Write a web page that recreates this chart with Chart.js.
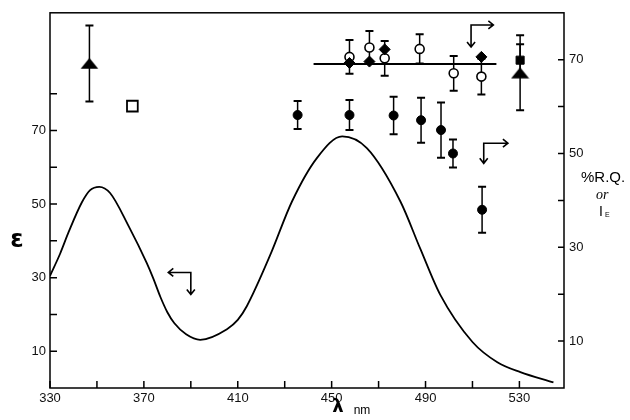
<!DOCTYPE html>
<html>
<head>
<meta charset="utf-8">
<script src="https://cdn.jsdelivr.net/npm/chart.js@4.4.1/dist/chart.umd.min.js"></script>
<style>
  html, body { margin: 0; padding: 0; background: #fff; }
  #wrap { width: 630px; height: 420px; position: relative; }
</style>
</head>
<body>
<div id="wrap"><canvas id="myChart"></canvas></div>
<script>
// absorption spectrum (left axis, epsilon)
const lambda = [330, 334.3, 338, 343.6, 347.1, 351, 355.6, 363.5, 371.2, 374, 377, 380, 383, 388, 394, 405.4, 410, 413.9, 423.8, 433.1, 443.7, 454.5, 465, 479.3, 487.8, 496.3, 510, 520.6, 530.4, 544.5];
const epsilon = [30.5, 36.5, 42.5, 50.5, 53.8, 54.7, 53.0, 44.0, 34.0, 29.8, 24.8, 20.6, 17.6, 14.6, 13.1, 16.0, 18.5, 22.3, 36.1, 50.7, 62.5, 68.4, 65.2, 50.7, 37.8, 25.3, 12.5, 7.0, 4.3, 1.5];

// points on right axis (%R.Q. or I_E)
const openCircleX = [457.6, 466.1, 472.6, 487.5, 502.0, 513.8];
const openCircleY = [70.6, 72.6, 70.3, 72.3, 67.1, 66.4];
const openCircleErr = [3.6, 3.5, 3.7, 3.1, 3.7, 3.8];

const diamondX = [457.6, 466.1, 472.6, 513.8];
const diamondY = [69.3, 69.6, 72.2, 70.6];

const filledCircleX = [435.5, 457.6, 476.4, 488.1, 496.6, 501.7, 514.1];
const filledCircleY = [58.2, 58.2, 58.1, 57.1, 55.0, 50.0, 38.0];
const filledCircleErr = [3.0, 3.2, 4.0, 4.8, 5.9, 3.0, 4.9];

const triangleX = [346.8, 530.3];
const triangleY = [69.2, 67.2];
const triangleErr = [8.1, 8.0];

const squareX = [530.3];
const squareY = [69.9];
const squareErr = [3.4];

const openSquareX = [365.1];
const openSquareY = [60.1];

const meanX = [442.3, 520.2];
const meanY = [69.1, 69.1];

// ticks
const xTicks = [330, 350, 370, 390, 410, 430, 450, 470, 490, 510, 530];
const xLabels = [330, 370, 410, 450, 490, 530];
const epsTicks = [10, 20, 30, 40, 50, 60, 70, 80];
const epsLabels = [10, 30, 50, 70];
const rqTicks = [10, 20, 30, 40, 50, 60, 70];
const rqLabels = [10, 30, 50, 70];

// bent arrows telling which axis a set belongs to
const arrowNotes = [
  { axis: 'y', corner: [390, 31.4], hEnd: 380.4, vEnd: 25.4 },
  { axis: 'y2', corner: [509.4, 77.4], hEnd: 518.9, vEnd: 72.7 },
  { axis: 'y2', corner: [514.8, 52.2], hEnd: 525.1, vEnd: 47.9 }
];

const pts = (xs, ys) => xs.map((x, i) => ({ x: x, y: ys[i] }));

// flat filled triangle marker
const tri = document.createElement('canvas');
tri.width = 19; tri.height = 12;
(function () {
  const c = tri.getContext('2d');
  c.fillStyle = '#000';
  c.beginPath();
  c.moveTo(9.5, 0.5); c.lineTo(18.5, 11.5); c.lineTo(0.5, 11.5);
  c.closePath(); c.fill();
})();

const font = { family: 'Liberation Sans, Arial, sans-serif', size: 13 };

const errorBars = {
  id: 'errorBars',
  beforeDatasetsDraw(chart) {
    const ctx = chart.ctx;
    chart.data.datasets.forEach((ds, i) => {
      if (!ds.errors) return;
      const meta = chart.getDatasetMeta(i);
      const ys = chart.scales[ds.yAxisID];
      ctx.save();
      ctx.strokeStyle = '#000';
      meta.data.forEach((pt, j) => {
        const e = ds.errors[j];
        if (!e) return;
        const v = ds.data[j].y;
        const top = ys.getPixelForValue(v + e);
        const bot = ys.getPixelForValue(v - e);
        ctx.lineWidth = 1.5;
        ctx.beginPath();
        ctx.moveTo(pt.x, top); ctx.lineTo(pt.x, bot);
        ctx.stroke();
        ctx.lineWidth = 2;
        ctx.beginPath();
        ctx.moveTo(pt.x - 4, top); ctx.lineTo(pt.x + 4, top);
        ctx.moveTo(pt.x - 4, bot); ctx.lineTo(pt.x + 4, bot);
        ctx.stroke();
      });
      ctx.restore();
    });
  }
};

const frame = {
  id: 'frame',
  afterDraw(chart) {
    const ctx = chart.ctx;
    const a = chart.chartArea;
    const sx = chart.scales.x, sy = chart.scales.y, sy2 = chart.scales.y2;
    ctx.save();
    ctx.strokeStyle = '#000';
    ctx.lineWidth = 1.5;
    ctx.strokeRect(a.left, a.top, a.right - a.left, a.bottom - a.top);
    // inward tick marks
    ctx.beginPath();
    xTicks.forEach(v => {
      const p = sx.getPixelForValue(v);
      ctx.moveTo(p, a.bottom); ctx.lineTo(p, a.bottom - 7);
    });
    epsTicks.forEach(v => {
      const p = sy.getPixelForValue(v);
      ctx.moveTo(a.left, p); ctx.lineTo(a.left + 7, p);
    });
    rqTicks.forEach(v => {
      const p = sy2.getPixelForValue(v);
      ctx.moveTo(a.right, p); ctx.lineTo(a.right - 6, p);
    });
    ctx.stroke();

    // arrows
    ctx.lineWidth = 1.6;
    arrowNotes.forEach(n => {
      const ys = chart.scales[n.axis];
      const cx = sx.getPixelForValue(n.corner[0]);
      const cy = ys.getPixelForValue(n.corner[1]);
      const hx = sx.getPixelForValue(n.hEnd);
      const vy = ys.getPixelForValue(n.vEnd);
      const d = hx < cx ? -1 : 1;
      ctx.beginPath();
      ctx.moveTo(hx, cy); ctx.lineTo(cx, cy); ctx.lineTo(cx, vy);
      ctx.moveTo(hx - d * 5, cy - 4); ctx.lineTo(hx, cy); ctx.lineTo(hx - d * 5, cy + 4);
      ctx.moveTo(cx - 4, vy - 5); ctx.lineTo(cx, vy); ctx.lineTo(cx + 4, vy - 5);
      ctx.stroke();
    });

    // axis titles
    ctx.fillStyle = '#000';
    ctx.textBaseline = 'middle';
    ctx.textAlign = 'center';
    ctx.font = 'bold 24px "DejaVu Sans", sans-serif';
    ctx.fillText('ε', 17, 241);
    ctx.font = 'bold 18px "DejaVu Sans", sans-serif';
    ctx.fillText('λ', 338, 407);
    ctx.font = '12px "Liberation Sans", sans-serif';
    ctx.fillText('nm', 362, 411);
    ctx.textAlign = 'left';
    ctx.font = '15px "Liberation Sans", sans-serif';
    ctx.fillText('%R.Q.', 581, 178);
    ctx.font = 'italic 14px "Liberation Serif", serif';
    ctx.fillText('or', 596, 195);
    ctx.font = '14px "Liberation Sans", sans-serif';
    ctx.fillText('I', 599, 212);
    ctx.font = '7px "Liberation Sans", sans-serif';
    ctx.fillText('E', 605, 215);
    ctx.restore();
  }
};

new Chart(document.getElementById('myChart'), {
  type: 'scatter',
  data: {
    datasets: [
      {
        data: pts(openCircleX, openCircleY), errors: openCircleErr, yAxisID: 'y2', order: 1,
        pointStyle: 'circle', pointRadius: 4.5, pointBackgroundColor: '#fff',
        pointBorderColor: '#000', pointBorderWidth: 1.6
      },
      {
        data: pts(diamondX, diamondY), yAxisID: 'y2', order: 0,
        pointStyle: 'rectRot', pointRadius: 5.5, pointBackgroundColor: '#000',
        pointBorderColor: '#000', pointBorderWidth: 1
      },
      {
        data: pts(filledCircleX, filledCircleY), errors: filledCircleErr, yAxisID: 'y2', order: 1,
        pointStyle: 'circle', pointRadius: 4.5, pointBackgroundColor: '#000',
        pointBorderColor: '#000', pointBorderWidth: 1
      },
      {
        data: pts(triangleX, triangleY), errors: triangleErr, yAxisID: 'y2', order: 1,
        pointStyle: tri, pointRadius: 6
      },
      {
        data: pts(squareX, squareY), errors: squareErr, yAxisID: 'y2', order: 0,
        pointStyle: 'rect', pointRadius: 5.7, pointBackgroundColor: '#000',
        pointBorderColor: '#000', pointBorderWidth: 1
      },
      {
        data: pts(openSquareX, openSquareY), yAxisID: 'y2', order: 1,
        pointStyle: 'rect', pointRadius: 7.6, pointBackgroundColor: '#fff',
        pointBorderColor: '#000', pointBorderWidth: 1.8
      },
      {
        data: pts(meanX, meanY), yAxisID: 'y2', order: 2, showLine: true,
        borderColor: '#000', borderWidth: 2, pointRadius: 0
      },
      {
        data: pts(lambda, epsilon), yAxisID: 'y', order: 3, showLine: true,
        borderColor: '#000', borderWidth: 1.8, pointRadius: 0,
        cubicInterpolationMode: 'monotone'
      }
    ]
  },
  options: {
    responsive: true,
    maintainAspectRatio: false,
    animation: false,
    layout: { padding: { top: 12, left: 0, right: 0, bottom: 0 } },
    plugins: { legend: { display: false }, tooltip: { enabled: false } },
    scales: {
      x: {
        type: 'linear', min: 330, max: 549,
        afterBuildTicks: s => { s.ticks = xTicks.map(v => ({ value: v })); },
        afterFit: s => { s.height = 32; },
        grid: { display: false, drawTicks: false },
        border: { display: false },
        ticks: {
          autoSkip: false, maxRotation: 0, padding: 3, color: '#111', font: font,
          callback: v => xLabels.includes(v) ? String(v) : ''
        }
      },
      y: {
        position: 'left', min: 0, max: 102,
        afterBuildTicks: s => { s.ticks = epsTicks.map(v => ({ value: v })); },
        afterFit: s => { s.width = 50; },
        grid: { display: false, drawTicks: false },
        border: { display: false },
        ticks: {
          autoSkip: false, padding: 4, color: '#111', font: font,
          callback: v => epsLabels.includes(v) ? String(v) : ''
        }
      },
      y2: {
        position: 'right', min: 0, max: 80,
        afterBuildTicks: s => { s.ticks = rqTicks.map(v => ({ value: v })); },
        afterFit: s => { s.width = 66; },
        grid: { display: false, drawTicks: false },
        border: { display: false },
        ticks: {
          autoSkip: false, padding: 5, color: '#111', font: font,
          callback: v => rqLabels.includes(v) ? String(v) : ''
        }
      }
    }
  },
  plugins: [errorBars, frame]
});
</script>
</body>
</html>
